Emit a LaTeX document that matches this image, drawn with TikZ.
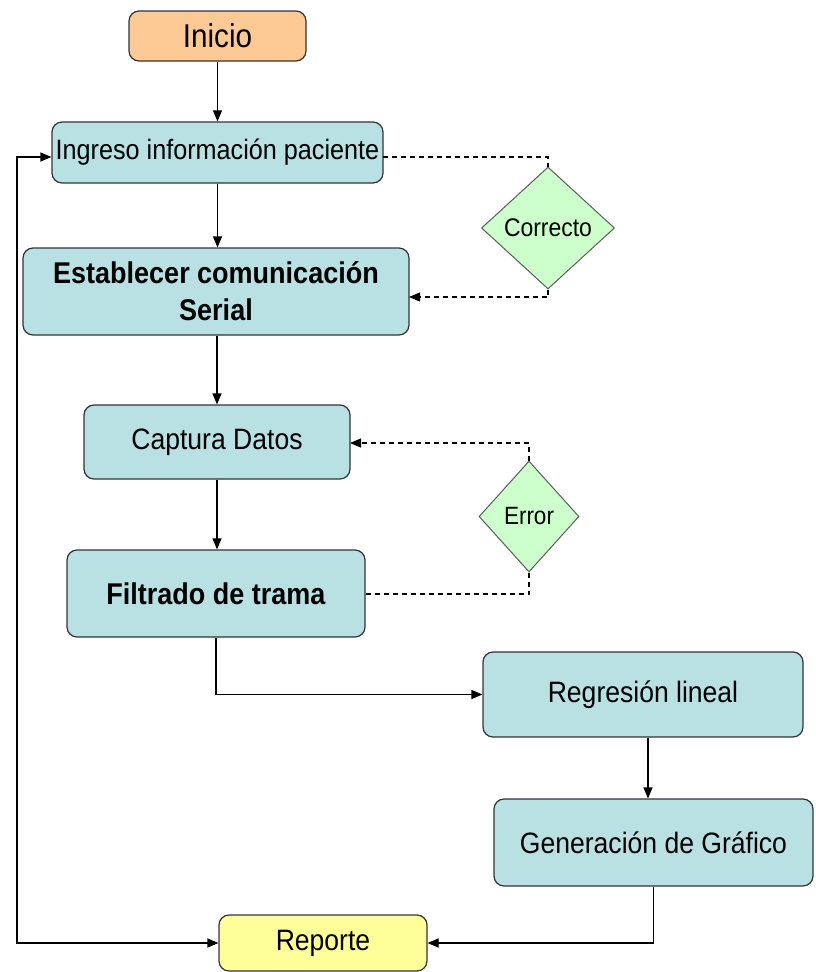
\documentclass[tikz,border=0pt]{standalone}
\usepackage{fontspec}
\setmainfont{Liberation Sans}[FakeStretch=0.9]
\usetikzlibrary{shapes.geometric,arrows.meta}
\definecolor{boxblue}{HTML}{B9E0E3}
\definecolor{boxorange}{HTML}{FDCA96}
\definecolor{boxyellow}{HTML}{FFFF99}
\definecolor{boxgreen}{HTML}{CCFFCC}
\definecolor{edge}{HTML}{333333}
\tikzset{
  tip/.tip={Triangle[length=11pt,width=9pt]},
  procbox/.style={draw=edge, line width=1.2pt, rounded corners=10pt, inner sep=0pt, align=center, text=black},
  decbox/.style={draw=edge!80, line width=1pt, diamond, fill=boxgreen, inner sep=0pt, text=black},
  conn/.style={line width=1.2pt, draw=black, -tip},
  dconn/.style={line width=1.2pt, draw=black, dash pattern=on 5pt off 4pt},
}
\begin{document}
\begin{tikzpicture}[x=1pt,y=-1pt]
\useasboundingbox[fill=white] (0,0) rectangle (815,972);
% nodes
\node[procbox, fill=boxorange, minimum width=177pt, minimum height=50pt, font=\fontsize{33}{36}\selectfont] (ini) at (217.5,36) {Inicio};
\node[procbox, fill=boxblue, minimum width=331pt, minimum height=61pt, font=\fontsize{28}{32}\selectfont] (ing) at (217.5,152.5) {Ingreso información paciente};
\node[decbox, minimum width=133pt, minimum height=122pt, font=\fontsize{25.5}{28}\selectfont] (cor) at (548,228) {Correcto};
\node[procbox, fill=boxblue, minimum width=386pt, minimum height=87pt, font=\bfseries\fontsize{30}{37}\selectfont] (est) at (216,291.5) {Establecer comunicación\\Serial};
\node[procbox, fill=boxblue, minimum width=266pt, minimum height=74pt, font=\fontsize{29.5}{33}\selectfont] (cap) at (217,442) {Captura Datos};
\node[decbox, minimum width=100pt, minimum height=111pt, font=\fontsize{25}{28}\selectfont] (err) at (529,516.5) {Error};
\node[procbox, fill=boxblue, minimum width=298pt, minimum height=87pt, font=\bfseries\fontsize{30}{33}\selectfont] (fil) at (216,593.5) {Filtrado de trama};
\node[procbox, fill=boxblue, minimum width=320pt, minimum height=85pt, font=\fontsize{29.5}{33}\selectfont] (reg) at (643,694.5) {Regresión lineal};
\node[procbox, fill=boxblue, minimum width=319pt, minimum height=87pt, font=\fontsize{29.5}{33}\selectfont] (gen) at (653.5,842.5) {Generación de Gráfico};
\node[procbox, fill=boxyellow, minimum width=208pt, minimum height=56pt, font=\fontsize{29.5}{33}\selectfont] (rep) at (323,943) {Reporte};
% helper coordinates
\coordinate (loopx) at (17,0);
\coordinate (corx) at (548,0);
\coordinate (rgx) at (648,0);
\coordinate (ingE) at (383,157);
\coordinate (estE) at (409,297);
\coordinate (capE) at (350,443);
\coordinate (filE) at (365,594);
% solid connectors
\draw[conn] (ini.south) -- (ing.north);
\draw[conn] (ing.south) -- (ing.south |- est.north);
\draw[conn] (est.south -| cap.north) -- (cap.north);
\draw[conn] (cap.south) -- (cap.south |- fil.north);
\draw[conn] (fil.south) |- (reg.west);
\draw[conn] (reg.south -| rgx) -- (gen.north -| rgx);
\draw[conn] (gen.south) |- (rep.east);
\draw[line width=1.2pt, tip-tip]
  (ing.west |- ingE) -- (ingE -| loopx) -- (rep.west -| loopx) -- (rep.west);
% dashed connectors
\draw[dconn] (ingE) -- (ingE -| corx) -- (cor.north);
\draw[dconn, -tip] (cor.south) -- (cor.south |- estE) -- (estE);
\draw[dconn, -tip] (err.north) -- (err.north |- capE) -- (capE);
\draw[dconn] (err.south) -- (err.south |- filE) -- (filE);
\end{tikzpicture}
\end{document}
